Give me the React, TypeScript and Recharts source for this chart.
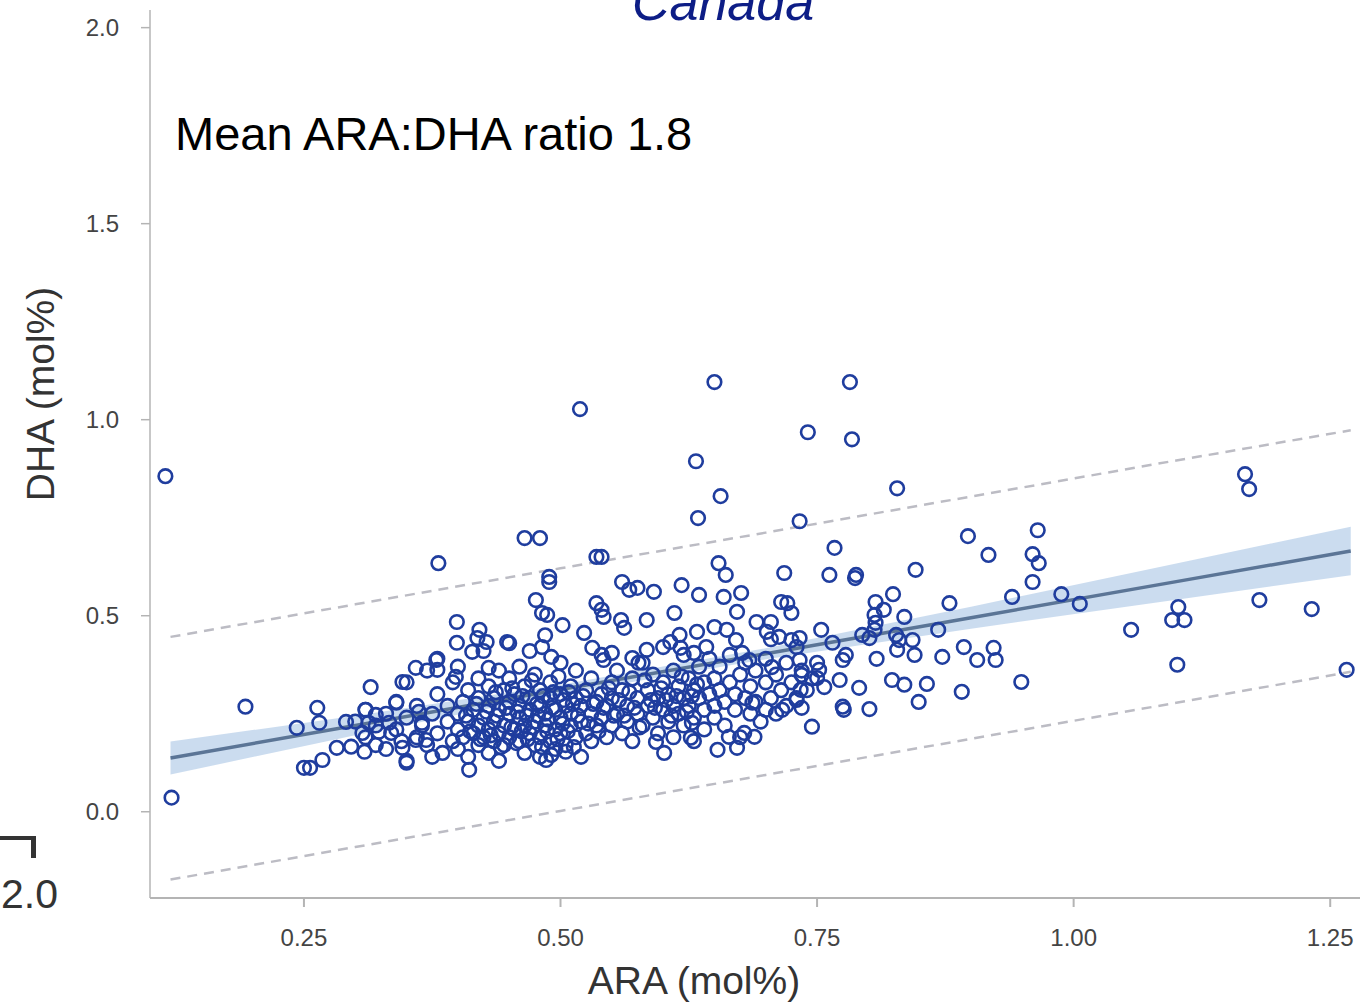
import React from 'react';
import {
  ComposedChart,
  Scatter,
  Line,
  Area,
  XAxis,
  YAxis,
} from 'recharts';

// ARA vs DHA (mol%)
const araDhaPairs: [number, number][] = [
  // outliers and sparse points
  [0.115, 0.856], [0.121, 0.036], [0.193, 0.268], [0.243, 0.214], [0.25, 0.112],
  [0.256, 0.112], [0.263, 0.265], [0.265, 0.227], [0.268, 0.132], [0.282, 0.163],
  [0.291, 0.229], [0.296, 0.166], [0.307, 0.201], [0.309, 0.153], [0.31, 0.26],
  [0.313, 0.227], [0.315, 0.318], [0.32, 0.247], [0.323, 0.204], [0.333, 0.227],
  [0.335, 0.201], [0.34, 0.278], [0.346, 0.331], [0.346, 0.163], [0.35, 0.125],
  [0.359, 0.367], [0.359, 0.183], [0.362, 0.255], [0.365, 0.227], [0.369, 0.183],
  [0.375, 0.14], [0.379, 0.387], [0.38, 0.362], [0.381, 0.634], [0.399, 0.484],
  [0.399, 0.431], [0.398, 0.344], [0.411, 0.107], [0.414, 0.408], [0.421, 0.464],
  [0.419, 0.443], [0.428, 0.433], [0.43, 0.367], [0.448, 0.433], [0.465, 0.698],
  [0.48, 0.698], [0.476, 0.54], [0.482, 0.507], [0.487, 0.502], [0.482, 0.42],
  [0.491, 0.395], [0.486, 0.132], [0.491, 0.145], [0.505, 0.153], [0.489, 0.599],
  [0.489, 0.586], [0.502, 0.476], [0.519, 1.027], [0.523, 0.456], [0.531, 0.418],
  [0.535, 0.65], [0.54, 0.65], [0.535, 0.532], [0.54, 0.515], [0.542, 0.497],
  [0.55, 0.405], [0.542, 0.387], [0.56, 0.586], [0.567, 0.566], [0.575, 0.571],
  [0.559, 0.489], [0.562, 0.469], [0.57, 0.392], [0.576, 0.38], [0.584, 0.489],
  [0.584, 0.413], [0.591, 0.561], [0.593, 0.178], [0.601, 0.15], [0.611, 0.507],
  [0.607, 0.433], [0.616, 0.451], [0.617, 0.418], [0.618, 0.578], [0.628, 0.227],
  [0.627, 0.189], [0.63, 0.405], [0.632, 0.894], [0.634, 0.749], [0.633, 0.459],
  [0.635, 0.553], [0.642, 0.42], [0.65, 1.096], [0.65, 0.471], [0.653, 0.158],
  [0.654, 0.634], [0.656, 0.805], [0.659, 0.548], [0.661, 0.604], [0.662, 0.464],
  [0.664, 0.191], [0.671, 0.438], [0.672, 0.51], [0.672, 0.163], [0.676, 0.558],
  [0.677, 0.405], [0.679, 0.201], [0.684, 0.387], [0.687, 0.278], [0.689, 0.191],
  [0.691, 0.484], [0.7, 0.26], [0.701, 0.459], [0.705, 0.484], [0.706, 0.369],
  [0.713, 0.446], [0.715, 0.535], [0.716, 0.26], [0.718, 0.609], [0.721, 0.532],
  [0.725, 0.507], [0.725, 0.438], [0.73, 0.285], [0.733, 0.741], [0.733, 0.443],
  [0.733, 0.387], [0.735, 0.349], [0.734, 0.311], [0.735, 0.265], [0.741, 0.968],
  [0.745, 0.217], [0.75, 0.341], [0.752, 0.362], [0.754, 0.464], [0.757, 0.318],
  [0.762, 0.604], [0.765, 0.431], [0.767, 0.673], [0.772, 0.336], [0.775, 0.387],
  [0.778, 0.4], [0.775, 0.268], [0.776, 0.26], [0.782, 1.096], [0.784, 0.95],
  [0.788, 0.604], [0.787, 0.596], [0.791, 0.316], [0.794, 0.451], [0.801, 0.443],
  [0.801, 0.262], [0.806, 0.502], [0.807, 0.535], [0.807, 0.482], [0.806, 0.464],
  [0.808, 0.39], [0.815, 0.515], [0.823, 0.336], [0.824, 0.555], [0.827, 0.451],
  [0.828, 0.825], [0.828, 0.413], [0.83, 0.438], [0.835, 0.497], [0.835, 0.324],
  [0.843, 0.438], [0.845, 0.4], [0.846, 0.617], [0.849, 0.28], [0.857, 0.326],
  [0.868, 0.464], [0.872, 0.395], [0.879, 0.532], [0.891, 0.306], [0.893, 0.42],
  [0.897, 0.703], [0.906, 0.387], [0.917, 0.655], [0.922, 0.418], [0.924, 0.387],
  [0.94, 0.548], [0.949, 0.331], [0.96, 0.586], [0.96, 0.657], [0.966, 0.634],
  [0.965, 0.718], [0.988, 0.555], [1.006, 0.53], [1.056, 0.464], [1.102, 0.522],
  [1.096, 0.489], [1.108, 0.489], [1.101, 0.375], [1.167, 0.861], [1.171, 0.823],
  [1.181, 0.54], [1.232, 0.517], [1.266, 0.362],
  // dense cloud
  [0.3, 0.23], [0.31, 0.19], [0.31, 0.26], [0.32, 0.17], [0.32, 0.22], [0.33, 0.25],
  [0.33, 0.16], [0.34, 0.21], [0.34, 0.28], [0.345, 0.18], [0.35, 0.24], [0.35, 0.33],
  [0.35, 0.13], [0.36, 0.19], [0.36, 0.27], [0.365, 0.22], [0.37, 0.36], [0.37, 0.17],
  [0.375, 0.25], [0.38, 0.39], [0.38, 0.2], [0.38, 0.3], [0.385, 0.15], [0.39, 0.23],
  [0.39, 0.27], [0.395, 0.18], [0.395, 0.33], [0.4, 0.21], [0.4, 0.25], [0.4, 0.16],
  [0.4, 0.37], [0.405, 0.28], [0.405, 0.19], [0.41, 0.23], [0.41, 0.31], [0.41, 0.14],
  [0.415, 0.2], [0.415, 0.26], [0.42, 0.17], [0.42, 0.22], [0.42, 0.34], [0.42, 0.29],
  [0.425, 0.24], [0.425, 0.19], [0.425, 0.41], [0.43, 0.21], [0.43, 0.27], [0.43, 0.15],
  [0.43, 0.32], [0.435, 0.23], [0.435, 0.18], [0.435, 0.29], [0.44, 0.2], [0.44, 0.26],
  [0.44, 0.36], [0.44, 0.13], [0.445, 0.22], [0.445, 0.31], [0.445, 0.17], [0.45, 0.25],
  [0.45, 0.19], [0.45, 0.28], [0.45, 0.34], [0.45, 0.43], [0.455, 0.21], [0.455, 0.3],
  [0.46, 0.18], [0.46, 0.24], [0.46, 0.27], [0.46, 0.37], [0.465, 0.15], [0.465, 0.22],
  [0.465, 0.32], [0.47, 0.2], [0.47, 0.26], [0.47, 0.29], [0.47, 0.41], [0.475, 0.17],
  [0.475, 0.23], [0.475, 0.35], [0.48, 0.19], [0.48, 0.27], [0.48, 0.31], [0.48, 0.14],
  [0.485, 0.22], [0.485, 0.25], [0.485, 0.45], [0.49, 0.18], [0.49, 0.29], [0.49, 0.33],
  [0.495, 0.21], [0.495, 0.26], [0.495, 0.16], [0.5, 0.24], [0.5, 0.3], [0.5, 0.38],
  [0.5, 0.2], [0.505, 0.27], [0.505, 0.17], [0.51, 0.22], [0.51, 0.32], [0.51, 0.25],
  [0.515, 0.19], [0.515, 0.29], [0.515, 0.36], [0.52, 0.23], [0.52, 0.27], [0.52, 0.14],
  [0.525, 0.31], [0.525, 0.2], [0.53, 0.25], [0.53, 0.34], [0.53, 0.18], [0.535, 0.28],
  [0.535, 0.22], [0.54, 0.3], [0.54, 0.24], [0.54, 0.4], [0.545, 0.19], [0.545, 0.27],
  [0.55, 0.33], [0.55, 0.22], [0.55, 0.29], [0.555, 0.25], [0.555, 0.36], [0.56, 0.2],
  [0.56, 0.31], [0.565, 0.27], [0.565, 0.23], [0.57, 0.34], [0.57, 0.18], [0.575, 0.29],
  [0.575, 0.25], [0.58, 0.38], [0.58, 0.22], [0.585, 0.31], [0.585, 0.27], [0.59, 0.24],
  [0.59, 0.35], [0.595, 0.2], [0.595, 0.29], [0.6, 0.26], [0.6, 0.33], [0.6, 0.42],
  [0.605, 0.23], [0.605, 0.3], [0.61, 0.27], [0.61, 0.36], [0.61, 0.19], [0.615, 0.32],
  [0.615, 0.25], [0.62, 0.29], [0.62, 0.4], [0.62, 0.22], [0.625, 0.34], [0.625, 0.27],
  [0.63, 0.31], [0.63, 0.24], [0.63, 0.18], [0.635, 0.37], [0.635, 0.29], [0.64, 0.26],
  [0.64, 0.33], [0.64, 0.21], [0.645, 0.3], [0.645, 0.39], [0.65, 0.27], [0.65, 0.34],
  [0.65, 0.24], [0.655, 0.31], [0.655, 0.37], [0.66, 0.28], [0.66, 0.22], [0.665, 0.33],
  [0.665, 0.4], [0.67, 0.26], [0.67, 0.3], [0.675, 0.35], [0.675, 0.19], [0.68, 0.29],
  [0.68, 0.38], [0.685, 0.25], [0.685, 0.32], [0.69, 0.36], [0.69, 0.28], [0.695, 0.23],
  [0.7, 0.33], [0.7, 0.39], [0.705, 0.29], [0.705, 0.44], [0.71, 0.35], [0.71, 0.25],
  [0.715, 0.31], [0.72, 0.38], [0.72, 0.27], [0.725, 0.33], [0.73, 0.29], [0.73, 0.42],
  [0.735, 0.36], [0.74, 0.31], [0.745, 0.34], [0.75, 0.38],
  // core of the cloud, where rings overlap most
  [0.408, 0.245], [0.412, 0.205], [0.418, 0.275], [0.422, 0.185], [0.428, 0.255],
  [0.432, 0.195], [0.437, 0.305], [0.438, 0.245], [0.442, 0.165], [0.447, 0.265],
  [0.452, 0.215], [0.453, 0.315], [0.457, 0.175], [0.458, 0.255], [0.462, 0.205],
  [0.463, 0.295], [0.467, 0.245], [0.468, 0.185], [0.472, 0.335], [0.473, 0.215],
  [0.477, 0.275], [0.478, 0.245], [0.482, 0.165], [0.483, 0.295], [0.487, 0.205],
  [0.488, 0.235], [0.492, 0.265], [0.493, 0.305], [0.497, 0.185], [0.498, 0.345],
  [0.502, 0.225], [0.503, 0.285], [0.507, 0.205], [0.508, 0.305], [0.512, 0.275],
  [0.513, 0.165], [0.517, 0.245], [0.522, 0.295], [0.527, 0.225], [0.532, 0.275],
  [0.537, 0.205], [0.542, 0.265], [0.547, 0.315], [0.552, 0.245], [0.557, 0.285],
  [0.562, 0.245], [0.567, 0.305], [0.572, 0.265], [0.577, 0.215], [0.582, 0.335],
  [0.588, 0.285], [0.592, 0.265], [0.598, 0.315], [0.603, 0.285], [0.608, 0.245],
  [0.613, 0.295], [0.618, 0.345], [0.623, 0.255], [0.628, 0.295], [0.633, 0.325],
];

// regression fit, its confidence band and the dashed prediction limits
const fitAra = [0.12, 0.3, 0.5, 0.7, 0.9, 1.1, 1.27];
const fitDha = [0.137, 0.22, 0.312, 0.403, 0.495, 0.587, 0.665];
const bandLow = [0.095, 0.195, 0.3, 0.389, 0.467, 0.541, 0.603];
const bandHigh = [0.179, 0.245, 0.324, 0.417, 0.523, 0.633, 0.727];
const predUpper = [0.446, 0.529, 0.621, 0.712, 0.804, 0.896, 0.973];
const predLower = [-0.173, -0.09, 0.002, 0.094, 0.186, 0.278, 0.357];

const xTicks = [0.25, 0.5, 0.75, 1.0, 1.25];
const xTickLabels = ['0.25', '0.50', '0.75', '1.00', '1.25'];
const yTicks = [0, 0.5, 1, 1.5, 2];
const yTickLabels = ['0.0', '0.5', '1.0', '1.5', '2.0'];

const FONT = 'Liberation Sans, Arial, sans-serif';
const POINT_BLUE = '#1f3d9e';

const scatterData = araDhaPairs.map(([ara, dha]) => ({ ara, dha }));
const fitTable = fitAra.map((ara, i) => ({
  ara,
  fit: fitDha[i],
  band: [bandLow[i], bandHigh[i]],
  upper: predUpper[i],
  lower: predLower[i],
}));

const Ring = (props: any) => {
  const { cx, cy } = props;
  if (cx == null || cy == null) return null;
  return <circle cx={cx} cy={cy} r={6.8} fill="none" stroke={POINT_BLUE} strokeWidth={2.6} />;
};

export default function App() {
  return (
    <div style={{ position: 'absolute', left: 0, top: 0, width: 1360, height: 1003, overflow: 'hidden', background: '#fff' }}>
      <ComposedChart
        width={1361}
        height={1003}
        margin={{ top: 10, right: 0, bottom: 0, left: 0 }}
      >
        <XAxis
          dataKey="ara"
          type="number"
          domain={[0.1, 1.28]}
          allowDataOverflow
          ticks={xTicks}
          tickFormatter={(v: number) => xTickLabels[xTicks.indexOf(v)] ?? String(v)}
          height={105}
          tickSize={9}
          tickMargin={22}
          stroke="#b4b4b4"
          strokeWidth={2}
          tick={{ fontSize: 24, fill: '#444', fontFamily: FONT }}
        />
        <YAxis
          type="number"
          domain={[-0.22, 2.045]}
          allowDataOverflow
          ticks={yTicks}
          tickFormatter={(v: number) => yTickLabels[yTicks.indexOf(v)] ?? String(v)}
          width={150}
          tickSize={9}
          tickMargin={22}
          stroke="#b4b4b4"
          strokeWidth={1.5}
          tick={{ fontSize: 24, fill: '#444', fontFamily: FONT }}
        />
        <Area
          data={fitTable}
          dataKey="band"
          type="linear"
          stroke="none"
          fill="#c2d6ec"
          fillOpacity={0.85}
          isAnimationActive={false}
        />
        <Line
          data={fitTable}
          dataKey="upper"
          type="linear"
          stroke="#bcbcc4"
          strokeWidth={2.5}
          strokeDasharray="10 7"
          dot={false}
          isAnimationActive={false}
        />
        <Line
          data={fitTable}
          dataKey="lower"
          type="linear"
          stroke="#bcbcc4"
          strokeWidth={2.5}
          strokeDasharray="10 7"
          dot={false}
          isAnimationActive={false}
        />
        <Line
          data={fitTable}
          dataKey="fit"
          type="linear"
          stroke="#5b7596"
          strokeWidth={3.5}
          dot={false}
          isAnimationActive={false}
        />
        <Scatter
          data={scatterData}
          dataKey="dha"
          shape={Ring}
          isAnimationActive={false}
        />
      </ComposedChart>

      <svg
        width={1360}
        height={1003}
        style={{ position: 'absolute', left: 0, top: 0, pointerEvents: 'none' }}
      >
        <text x={723} y={20} textAnchor="middle" fontFamily={FONT} fontStyle="italic" fontSize={52} fill="#0d1d86">
          Canada
        </text>
        <text x={175} y={150} fontFamily={FONT} fontSize={47} fill="#000">
          Mean ARA:DHA ratio 1.8
        </text>
        <text x={694} y={994} textAnchor="middle" fontFamily={FONT} fontSize={39} fill="#333">
          ARA (mol%)
        </text>
        <text
          transform="translate(54, 394) rotate(-90)"
          textAnchor="middle"
          fontFamily={FONT}
          fontSize={39}
          fill="#333"
        >
          DHA (mol%)
        </text>
        {/* cropped fragment at the bottom-left edge */}
        <rect x={0} y={836} width={36} height={4} fill="#333" />
        <rect x={31} y={836} width={5} height={22} fill="#333" />
        <text x={1} y={908} fontFamily={FONT} fontSize={41} fill="#333">
          2.0
        </text>
      </svg>
    </div>
  );
}
